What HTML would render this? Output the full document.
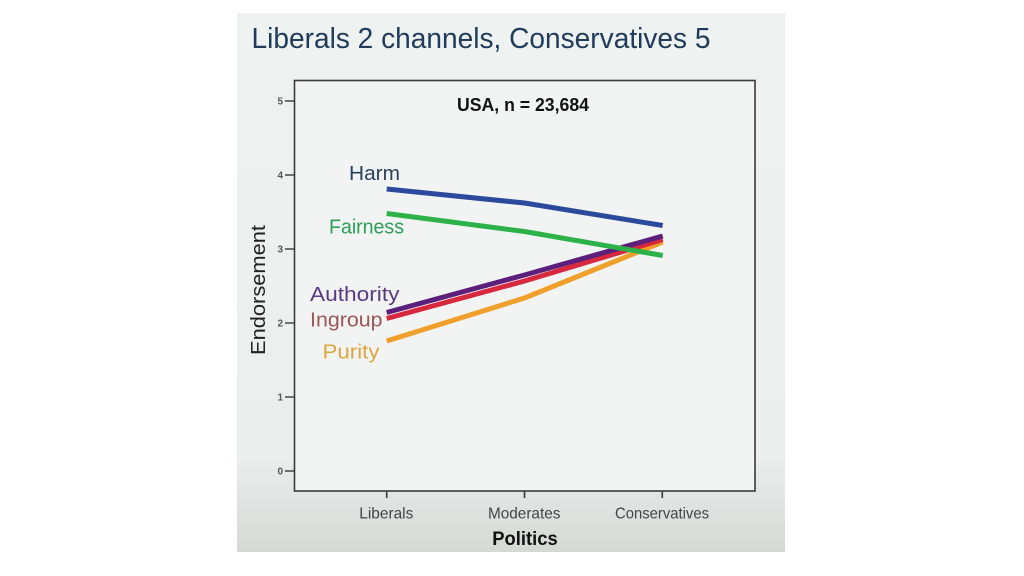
<!DOCTYPE html>
<html>
<head>
<meta charset="utf-8">
<style>
  html,body{margin:0;padding:0;background:#ffffff;}
  body{width:1024px;height:576px;overflow:hidden;}
  svg{display:block;}
</style>
</head>
<body>
<svg width="1024" height="576" viewBox="0 0 1024 576" xmlns="http://www.w3.org/2000/svg">
  <defs>
    <linearGradient id="bg" x1="0" y1="0" x2="0" y2="1">
      <stop offset="0" stop-color="#eef2f0"/>
      <stop offset="0.82" stop-color="#eaeeec"/>
      <stop offset="1" stop-color="#d6d8d6"/>
    </linearGradient>
  </defs>
  <rect x="237" y="13" width="548" height="539" fill="url(#bg)"/>
  <!-- plot area -->
  <rect x="294.5" y="80.5" width="460.5" height="410.5" fill="#f1f4f2" stroke="#3a3a3a" stroke-width="1.6"/>

  <!-- title -->
  <text x="251.5" y="48" font-family="Liberation Sans, sans-serif" font-size="29" fill="#203c5a" textLength="459" lengthAdjust="spacingAndGlyphs">Liberals 2 channels, Conservatives 5</text>

  <!-- chart title -->
  <text x="523" y="111" text-anchor="middle" font-family="Liberation Sans, sans-serif" font-weight="bold" font-size="18" fill="#111" textLength="132" lengthAdjust="spacingAndGlyphs">USA, n = 23,684</text>

  <!-- y ticks -->
  <g stroke="#3a3a3a" stroke-width="1.4">
    <line x1="285" y1="101" x2="294.5" y2="101"/>
    <line x1="285" y1="175" x2="294.5" y2="175"/>
    <line x1="285" y1="249" x2="294.5" y2="249"/>
    <line x1="285" y1="323" x2="294.5" y2="323"/>
    <line x1="285" y1="397" x2="294.5" y2="397"/>
    <line x1="285" y1="471" x2="294.5" y2="471"/>
  </g>
  <g font-family="Liberation Sans, sans-serif" font-weight="bold" font-size="10" fill="#555" text-anchor="end">
    <text x="283" y="104.5">5</text>
    <text x="283" y="178.5">4</text>
    <text x="283" y="252.5">3</text>
    <text x="283" y="326.5">2</text>
    <text x="283" y="400.5">1</text>
    <text x="283" y="474.5">0</text>
  </g>

  <!-- x ticks -->
  <g stroke="#3a3a3a" stroke-width="1.6">
    <line x1="386.7" y1="491" x2="386.7" y2="498"/>
    <line x1="524.5" y1="491" x2="524.5" y2="498"/>
    <line x1="662.3" y1="491" x2="662.3" y2="498"/>
  </g>
  <g font-family="Liberation Sans, sans-serif" font-size="16" fill="#444" text-anchor="middle">
    <text x="386.3" y="518.5" textLength="54" lengthAdjust="spacingAndGlyphs">Liberals</text>
    <text x="524.2" y="518.5" textLength="72.5" lengthAdjust="spacingAndGlyphs">Moderates</text>
    <text x="662" y="518.5" textLength="94" lengthAdjust="spacingAndGlyphs">Conservatives</text>
  </g>
  <text x="525" y="545" text-anchor="middle" font-family="Liberation Sans, sans-serif" font-weight="bold" font-size="19.5" fill="#111" textLength="65.5" lengthAdjust="spacingAndGlyphs">Politics</text>

  <!-- y axis label -->
  <text transform="translate(265,290) rotate(-90)" text-anchor="middle" font-family="Liberation Sans, sans-serif" font-size="20" fill="#222" textLength="130" lengthAdjust="spacingAndGlyphs">Endorsement</text>

  <!-- series -->
  <g fill="none" stroke-width="5" stroke-linejoin="round">
    <polyline points="386.7,341 524.5,298 662.7,242" stroke="#f0a02a"/>
    <polyline points="386.7,318.5 524.5,281 662.7,239.5" stroke="#d8283e"/>
    <polyline points="386.7,312.5 524.5,275 662.7,236" stroke="#5c1f7c"/>
    <polyline points="386.7,213.5 524.5,231.5 662.7,255.5" stroke="#2db24a"/>
    <polyline points="386.7,189 524.5,203 662.7,225.5" stroke="#2c4a9c"/>
  </g>

  <!-- series labels -->
  <g font-family="Liberation Sans, sans-serif" font-size="20">
    <text x="349" y="180" fill="#2a3f60" textLength="51" lengthAdjust="spacingAndGlyphs">Harm</text>
    <text x="329" y="233.5" fill="#2e9e58" textLength="75" lengthAdjust="spacingAndGlyphs">Fairness</text>
    <text x="310" y="301" fill="#5a3a82" textLength="89.5" lengthAdjust="spacingAndGlyphs">Authority</text>
    <text x="310" y="326.5" fill="#9c5656" textLength="72.5" lengthAdjust="spacingAndGlyphs">Ingroup</text>
    <text x="322.5" y="358.5" fill="#dca63e" textLength="57" lengthAdjust="spacingAndGlyphs">Purity</text>
  </g>
</svg>
</body>
</html>
